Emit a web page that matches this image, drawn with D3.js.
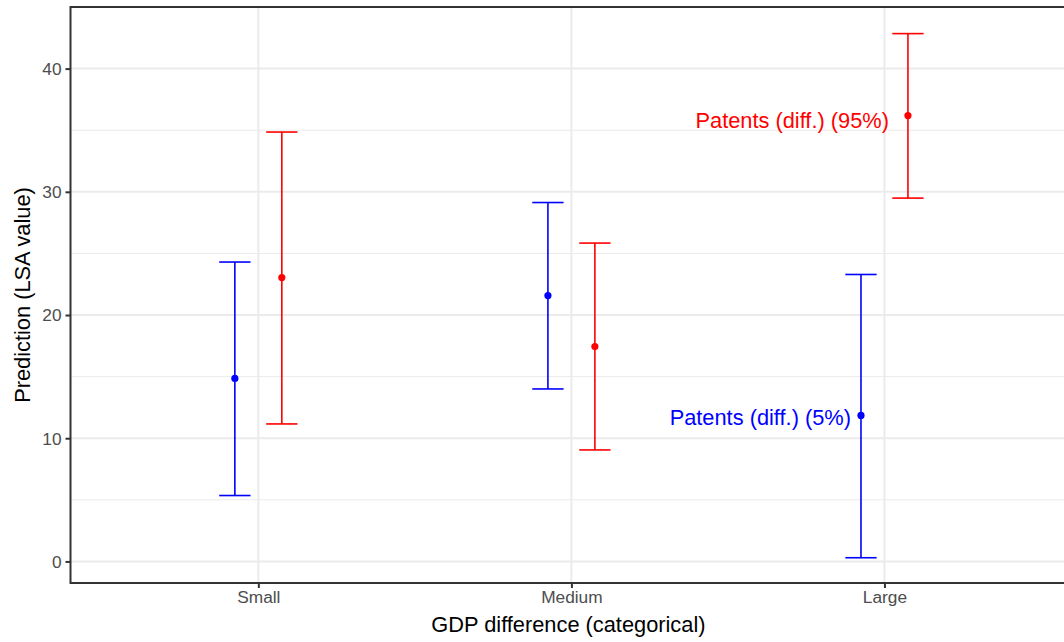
<!DOCTYPE html>
<html>
<head>
<meta charset="utf-8">
<script src="https://cdn.jsdelivr.net/npm/d3@7"></script>
<style>
  html, body { margin: 0; padding: 0; background: #fff; }
  svg { display: block; font-family: "Liberation Sans", Arial, Helvetica, sans-serif; }
  .grid-major line { stroke: #EBEBEB; stroke-width: 2; }
  .grid-minor line { stroke: #EBEBEB; stroke-width: 1; }
  .axis path { display: none; }
  .axis line { stroke: #333; stroke-width: 2; }
  .axis text { fill: #4D4D4D; font-size: 17.3px; }
</style>
</head>
<body>
<div id="chart"></div>
<script>
// Categories on the x axis
const categories = ["Small", "Medium", "Large"];

// Series: 5% quantile (blue) and 95% quantile (red) predictions
const seriesNames = ["Patents (diff.) (5%)", "Patents (diff.) (95%)"];
const est5  = [14.85, 21.58, 11.85];
const lo5   = [5.35, 14.0, 0.30];
const hi5   = [24.3, 29.13, 23.29];
const est95 = [23.04, 17.44, 36.19];
const lo95  = [11.16, 9.05, 29.49];
const hi95  = [34.85, 25.84, 42.84];

const yTicks = [0, 10, 20, 30, 40];
const yMinor = [5, 15, 25, 35];
const yDomain = [-1.75, 45.0];

const W = 1064, H = 642;
const MARGIN = { top: 7, left: 70.5, bottom: 59 };
const panelRight = 1072.3; // panel runs past the right edge of the image
const COLOR = ["#0000FF", "#FF0000"];
const DODGE = [-0.075, 0.075];
const CAP = 0.1;

const svg = d3.select("#chart").append("svg").attr("width", W).attr("height", H);

const x = d3.scalePoint().domain(categories).range([MARGIN.left, panelRight]).padding(0.6);
const step = x.step();
const y = d3.scaleLinear().domain(yDomain).range([H - MARGIN.bottom, MARGIN.top]);

const g = svg.append("g");

// Grid
g.append("g").attr("class", "grid-minor").selectAll("line").data(yMinor).join("line")
  .attr("x1", MARGIN.left).attr("x2", panelRight).attr("y1", d => y(d)).attr("y2", d => y(d));
g.append("g").attr("class", "grid-major").selectAll("line").data(yTicks).join("line")
  .attr("x1", MARGIN.left).attr("x2", panelRight).attr("y1", d => y(d)).attr("y2", d => y(d));
g.append("g").attr("class", "grid-major").selectAll("line").data(categories).join("line")
  .attr("x1", d => x(d)).attr("x2", d => x(d)).attr("y1", MARGIN.top).attr("y2", H - MARGIN.bottom);

// Series data
const series = [
  categories.map((c, i) => ({ cat: c, est: est5[i], lo: lo5[i], hi: hi5[i] })),
  categories.map((c, i) => ({ cat: c, est: est95[i], lo: lo95[i], hi: hi95[i] })),
];

series.forEach((rows, s) => {
  const sg = g.append("g").attr("stroke", COLOR[s]).attr("fill", COLOR[s]);
  const cx = d => x(d.cat) + DODGE[s] * step;
  sg.selectAll(".stem").data(rows).join("line").attr("class", "stem")
    .attr("x1", cx).attr("x2", cx).attr("y1", d => y(d.lo)).attr("y2", d => y(d.hi))
    .attr("stroke-width", 1.6);
  ["lo", "hi"].forEach(k => {
    sg.selectAll(".cap-" + k).data(rows).join("line").attr("class", "cap-" + k)
      .attr("x1", d => cx(d) - CAP / 2 * step).attr("x2", d => cx(d) + CAP / 2 * step)
      .attr("y1", d => y(d[k])).attr("y2", d => y(d[k]))
      .attr("stroke-width", 1.6);
  });
  sg.selectAll(".pt").data(rows).join("circle").attr("class", "pt")
    .attr("cx", cx).attr("cy", d => y(d.est)).attr("r", 3.6).attr("stroke", "none");
});

// Labels next to the "Large" points
const labelY = [11.65, 35.8];
const labelGap = [10, 19];
series.forEach((rows, s) => {
  const d = rows[2];
  svg.append("text")
    .attr("x", x(d.cat) + DODGE[s] * step - labelGap[s])
    .attr("y", y(labelY[s]))
    .attr("dominant-baseline", "central")
    .attr("text-anchor", "end")
    .attr("fill", COLOR[s]).attr("font-size", "21.8px")
    .text(seriesNames[s]);
});

// Panel border
svg.append("rect")
  .attr("x", MARGIN.left).attr("y", MARGIN.top)
  .attr("width", panelRight - MARGIN.left).attr("height", H - MARGIN.bottom - MARGIN.top)
  .attr("fill", "none").attr("stroke", "#333").attr("stroke-width", 2);

// Axes
const yAxis = svg.append("g").attr("class", "axis").attr("transform", `translate(${MARGIN.left},0)`)
  .call(d3.axisLeft(y).tickValues(yTicks).tickSize(5).tickPadding(4));
yAxis.selectAll("text").attr("dy", "0.34em");

svg.append("g").attr("class", "axis").attr("transform", `translate(0,${H - MARGIN.bottom})`)
  .call(d3.axisBottom(x).tickSize(5).tickPadding(3));

// Axis titles
svg.append("text").attr("x", (MARGIN.left + panelRight) / 2 - 3).attr("y", 632)
  .attr("text-anchor", "middle").attr("font-size", "21.8px").attr("fill", "#000")
  .text("GDP difference (categorical)");
svg.append("text").attr("transform", `translate(30,${(MARGIN.top + H - MARGIN.bottom) / 2}) rotate(-90)`)
  .attr("text-anchor", "middle").attr("font-size", "21.8px").attr("fill", "#000")
  .text("Prediction (LSA value)");
</script>
</body>
</html>
